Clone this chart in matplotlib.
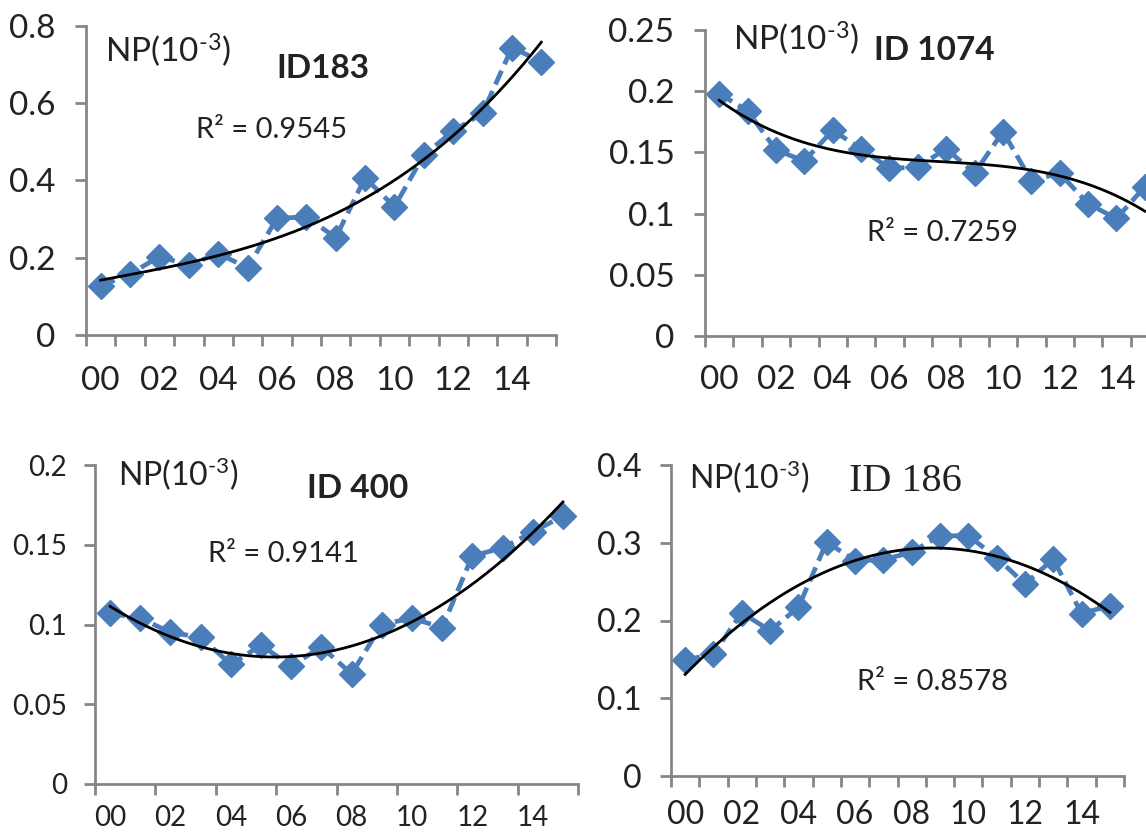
import numpy as np
import matplotlib
matplotlib.use("Agg")
import matplotlib.pyplot as plt

plt.rcParams['font.family'] = ['Lato', 'DejaVu Sans']
plt.rcParams['mathtext.fontset'] = 'custom'
plt.rcParams['mathtext.rm'] = 'Lato'
plt.rcParams['mathtext.default'] = 'regular'

years = ["00", "01", "02", "03", "04", "05", "06", "07", "08", "09", "10", "11", "12", "13", "14", "15"]

np_id183 = [0.127, 0.158, 0.203, 0.181, 0.211, 0.174, 0.302, 0.306, 0.252, 0.407,
            0.332, 0.466, 0.528, 0.574, 0.744, 0.708]
np_id1074 = [0.198, 0.184, 0.152, 0.143, 0.168, 0.153, 0.137, 0.138, 0.153, 0.133,
             0.167, 0.127, 0.133, 0.108, 0.096, 0.122]
np_id400 = [0.107, 0.104, 0.095, 0.092, 0.075, 0.087, 0.074, 0.086, 0.069, 0.100,
            0.104, 0.098, 0.143, 0.148, 0.158, 0.168]
np_id186 = [0.149, 0.157, 0.210, 0.187, 0.217, 0.301, 0.277, 0.278, 0.288, 0.309,
            0.309, 0.281, 0.247, 0.279, 0.209, 0.219]

W, H = 1146, 834
fig = plt.figure(figsize=(W / 100, H / 100), dpi=100)

BLUE = '#4A7EBB'
GRAY = '#868686'
NP_LABEL = r'NP(10$^{\text{-3}}$)'


def make_axes(l, r, t, b):
    return fig.add_axes([l / W, 1 - b / H, (r - l) / W, (b - t) / H])


def draw(ax, values, order, ymax, ystep, yfmt, tick_every, fs, xpad, ypad):
    x = np.arange(len(values))
    ax.plot(x, values, linestyle=(0, (3.2, 1.5)), color=BLUE, linewidth=3.4,
            marker='D', markersize=13, markerfacecolor=BLUE, markeredgecolor=BLUE, zorder=2)
    coef = np.polyfit(x, values, order)
    xs = np.linspace(0, len(values) - 1, 200)
    ax.plot(xs, np.polyval(coef, xs), color='black', linewidth=2, zorder=3)
    ax.set_xlim(-0.5, len(values) - 0.5)
    ax.set_ylim(0, ymax)
    ax.set_xticks(x[::2])
    ax.set_xticklabels(years[::2])
    ax.set_xticks(np.arange(-0.5, len(values), tick_every), minor=True)
    yt = np.arange(0, ymax + 1e-9, ystep)
    ax.set_yticks(yt)
    ax.set_yticklabels([yfmt(v) for v in yt])
    for s in ['top', 'right']:
        ax.spines[s].set_visible(False)
    for s in ['left', 'bottom']:
        ax.spines[s].set_color(GRAY)
        ax.spines[s].set_linewidth(2)
    ax.tick_params(axis='x', which='major', length=0, pad=xpad, labelsize=fs, colors='#222222')
    ax.tick_params(axis='x', which='minor', length=8, width=2, color=GRAY)
    ax.tick_params(axis='y', which='major', length=8, width=2, color=GRAY, pad=ypad,
                   labelsize=fs, labelcolor='#222222')
    ax.patch.set_alpha(0)


def g(v):
    return '0' if v == 0 else ('%g' % round(v, 3))


def ftxt(x, y, s, **kw):
    fig.text(x / W, 1 - y / H, s, ha='left', va='center', color='#222222', **kw)


# Panel 1: ID183
ax1 = make_axes(86, 556, 26, 335)
draw(ax1, np_id183, 3, 0.8, 0.2, g, 1, 24, 22, 14)
ftxt(105, 50, NP_LABEL, fontsize=24)
ftxt(276, 68, 'ID183', fontsize=24, fontweight='bold')
ftxt(196, 130, 'R² = 0.9545', fontsize=21)

# Panel 2: ID 1074
ax2 = make_axes(705, 1159, 30, 336)
draw(ax2, np_id1074, 3, 0.25, 0.05, g, 1, 24, 21, 14)
ftxt(733, 38, NP_LABEL, fontsize=24)
ftxt(874, 50, 'ID 1074', fontsize=24, fontweight='bold')
ftxt(867, 233, 'R² = 0.7259', fontsize=21)

# Panel 3: ID 400
ax3 = make_axes(95, 578, 465, 784)
draw(ax3, np_id400, 2, 0.2, 0.05, g, 2, 20, 15, 12)
ftxt(118, 474, NP_LABEL, fontsize=23)
ftxt(307, 489, 'ID 400', fontsize=24, fontweight='bold')
ftxt(208, 554, 'R² = 0.9141', fontsize=21)

# Panel 4: ID 186
ax4 = make_axes(671, 1124, 465, 776)
draw(ax4, np_id186, 2, 0.4, 0.1, g, 1, 23, 17, 13)
ftxt(689, 477, NP_LABEL, fontsize=23)
ftxt(849, 482, 'ID 186', fontsize=29, family=['Liberation Serif', 'DejaVu Serif'])
ftxt(857, 682, 'R² = 0.8578', fontsize=21)

fig.savefig('out.png', dpi=100)
